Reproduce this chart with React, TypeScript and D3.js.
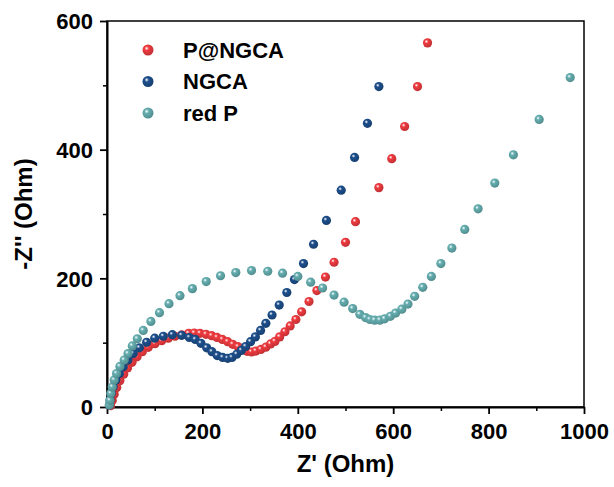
import { useEffect, useRef } from 'react';
import * as d3 from 'd3';

// Nyquist data (Z' and -Z'' in Ohm)
const seriesNames = ['P@NGCA', 'NGCA', 'red P'];
const seriesColors = ['#ef3b40', '#1d4f8c', '#66afb1'];

const pngcaRe = [7.5, 11, 15, 20.5, 27, 35, 43, 52.4, 63, 74, 86.6, 100.6, 114.6, 128.5, 142.6, 156.5, 171, 183, 195, 207.5, 219.5, 230.6, 241.8, 253, 263.5, 274.6, 284.5, 293.5, 303, 312, 322.6, 333, 343, 352, 362, 373, 384, 396, 408, 423.5, 440, 458, 476, 500, 521, 570, 597, 624, 651, 672];
const pngcaIm = [2, 10, 20, 30.5, 41, 51, 60.6, 69.5, 78, 86, 92.7, 98.4, 103, 107, 110, 112, 114.5, 115, 114.5, 113, 110.8, 108.2, 105, 101.6, 97.5, 93.7, 89.5, 86.6, 85.5, 87, 89.5, 93, 98, 102, 109, 117, 126, 136, 148, 164, 181, 202, 225, 256, 288, 341, 386, 436, 498, 566];

const ngcaRe = [5, 6.5, 9, 13, 18.6, 26, 34, 44, 55, 68, 83, 100, 118, 137, 156.5, 172.6, 185, 197, 209, 220, 231, 242.5, 253, 262, 272, 281.6, 290.6, 301, 311, 322, 333, 346, 361, 377, 393, 412, 433, 460, 491, 519, 546, 570];
const ngcaIm = [3, 10.8, 21, 31.6, 42, 52, 62.6, 73, 83, 92, 100.6, 107, 110, 112.4, 111.4, 108, 105, 99, 92, 86, 80, 77, 75.6, 77, 82, 88, 94, 101.5, 109, 119, 130, 143, 158.5, 178, 198, 223, 253, 290, 337, 388, 441, 498];

const redPRe = [5, 6, 8, 11, 15, 20, 27, 36, 44, 53, 63.5, 76, 92, 110, 130, 153, 179, 208, 238, 270, 303, 337, 368, 400, 427, 452, 476, 497, 515, 530, 542, 551, 561, 572, 582, 594, 605, 618, 631, 645, 662, 680, 700, 723, 750, 778, 813, 852, 906, 971];
const redPIm = [3, 10, 21, 31, 42, 52, 63, 73, 83, 95, 106, 119, 133, 146.6, 160.6, 173, 184, 195, 204, 209, 212, 211, 208, 203, 194, 185, 174, 163, 153, 144, 139, 136, 135, 135, 137, 141, 146, 152, 160, 172, 186, 203, 223, 247, 276, 308, 348, 392, 447, 512];

const seriesRe = [pngcaRe, ngcaRe, redPRe];
const seriesIm = [pngcaIm, ngcaIm, redPIm];

const xTicks = [0, 200, 400, 600, 800, 1000];
const yTicks = [0, 200, 400, 600];

const W = 614;
const H = 487;
const margin = { top: 21, right: 30, bottom: 80, left: 107 };
const FONT = 'Liberation Sans, Arial, sans-serif';

export default function App() {
    const svgRef = useRef<SVGSVGElement>(null);

    useEffect(() => {
        if (!svgRef.current) return;
        const svg = d3.select(svgRef.current);
        svg.selectAll('*').remove();

        const innerW = W - margin.left - margin.right;
        const innerH = H - margin.top - margin.bottom;

        const x = d3.scaleLinear().domain([0, 1000]).range([0, innerW]);
        const y = d3.scaleLinear().domain([0, 600]).range([innerH, 0]);

        // sphere-like gradients
        const defs = svg.append('defs');
        seriesColors.forEach((c, i) => {
            const grad = defs.append('radialGradient')
                .attr('id', `ball-${i}`)
                .attr('cx', '38%').attr('cy', '35%').attr('r', '65%');
            grad.append('stop').attr('offset', '0%').attr('stop-color', '#ffffff').attr('stop-opacity', 0.9);
            grad.append('stop').attr('offset', '30%').attr('stop-color', c);
            grad.append('stop').attr('offset', '100%').attr('stop-color', d3.color(c)!.darker(0.6).toString());
        });

        const g = svg.append('g').attr('transform', `translate(${margin.left},${margin.top})`);

        // frame
        g.append('rect')
            .attr('width', innerW).attr('height', innerH)
            .attr('fill', 'none').attr('stroke', '#000').attr('stroke-width', 1.5);

        const minorX = d3.range(100, 1000, 200);
        const minorY = d3.range(100, 600, 200);

        const styleAxis = (sel: d3.Selection<SVGGElement, unknown, null, undefined>) => {
            sel.select('.domain').attr('stroke-width', 2);
            sel.selectAll('.tick line').attr('stroke-width', 1.8);
            sel.selectAll('.tick text')
                .attr('font-family', FONT).attr('font-weight', 'bold')
                .attr('font-size', '22px').attr('fill', '#000');
        };

        // minor ticks
        g.append('g').attr('transform', `translate(0,${innerH})`)
            .call(d3.axisBottom(x).tickValues(minorX).tickSize(4).tickFormat(() => ''))
            .call(s => s.select('.domain').remove())
            .call(s => s.selectAll('.tick line').attr('stroke-width', 1.5));
        g.append('g')
            .call(d3.axisLeft(y).tickValues(minorY).tickSize(4).tickFormat(() => ''))
            .call(s => s.select('.domain').remove())
            .call(s => s.selectAll('.tick line').attr('stroke-width', 1.5));

        // major axes
        g.append('g').attr('transform', `translate(0,${innerH})`)
            .call(d3.axisBottom(x).tickValues(xTicks).tickSize(7).tickSizeOuter(0).tickPadding(9).tickFormat(d3.format('d')))
            .call(styleAxis);
        g.append('g')
            .call(d3.axisLeft(y).tickValues(yTicks).tickSize(7).tickSizeOuter(0).tickPadding(7).tickFormat(d3.format('d')))
            .call(styleAxis)
            .call(s => s.selectAll('.tick text').attr('dy', '0.36em'));

        // points
        seriesRe.forEach((re, i) => {
            const pts = re.map((v, k) => [v, seriesIm[i][k]] as [number, number]);
            g.append('g').selectAll('circle')
                .data(pts)
                .enter()
                .append('circle')
                .attr('cx', d => x(d[0]))
                .attr('cy', d => y(d[1]))
                .attr('r', 4.6)
                .attr('fill', `url(#ball-${i})`);
        });

        // legend
        const legend = g.append('g').attr('transform', 'translate(41,29)');
        seriesNames.forEach((name, i) => {
            const row = legend.append('g').attr('transform', `translate(0,${i * 31.5})`);
            row.append('circle').attr('r', 5.5).attr('fill', `url(#ball-${i})`);
            row.append('text')
                .attr('x', 35).attr('dy', '0.36em')
                .attr('font-family', FONT).attr('font-weight', 'bold')
                .attr('font-size', '22px').attr('fill', '#000')
                .text(name);
        });

        // axis titles
        svg.append('text')
            .attr('x', margin.left + innerW / 2).attr('y', 472)
            .attr('text-anchor', 'middle')
            .attr('font-family', FONT).attr('font-weight', 'bold')
            .attr('font-size', '24px')
            .text("Z' (Ohm)");
        svg.append('text')
            .attr('transform', `translate(32,${margin.top + innerH / 2}) rotate(-90)`)
            .attr('text-anchor', 'middle')
            .attr('font-family', FONT).attr('font-weight', 'bold')
            .attr('font-size', '24px')
            .text("-Z'' (Ohm)");
    }, []);

    return (
        <div style={{ position: 'absolute', left: 0, top: 0, background: '#fff' }}>
            <svg ref={svgRef} width={W} height={H} />
        </div>
    );
}
